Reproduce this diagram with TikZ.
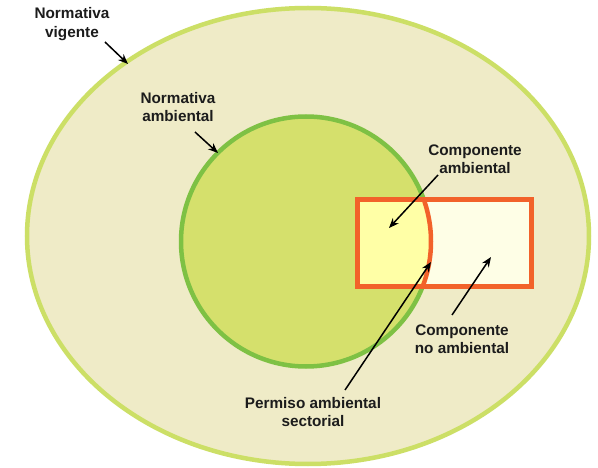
\documentclass[tikz,border=0pt]{standalone}
\usepackage{fontspec}
\setmainfont{Liberation Sans}
\usetikzlibrary{arrows.meta}
\definecolor{outfill}{HTML}{EFEBC7}
\definecolor{outline}{HTML}{CCDF66}
\definecolor{infill}{HTML}{D5E06C}
\definecolor{inline}{HTML}{7EC144}
\definecolor{orng}{HTML}{F2622A}
\definecolor{yel}{HTML}{FFFFA6}
\definecolor{cream}{HTML}{FEFEE6}
\definecolor{txt}{HTML}{1C1C1C}
\begin{document}
\begin{tikzpicture}[x=1pt,y=-1pt,
  lbl/.style={font=\bfseries\fontsize{15.3}{18.5}\selectfont, align=center, text=txt, inner sep=0pt},
  arr/.style={-{Stealth[length=10pt,width=8pt]}, line width=1.5pt, draw=black}]
\useasboundingbox (0,0) rectangle (598,468);
\fill[white] (0,0) rectangle (598,468);
% outer ellipse
\draw[fill=outfill, draw=outline, line width=4.5pt] (308,236) ellipse [x radius=281, y radius=228];
% inner ellipse
\draw[fill=infill, draw=inline, line width=4.5pt] (306,241.5) ellipse [x radius=125, y radius=125];
% rectangle
\fill[cream] (357,200) rectangle (531,287);
\begin{scope}
  \clip (357,200) rectangle (531,287);
  \fill[yel] (306,241.5) ellipse [x radius=125, y radius=125];
  \draw[orng, line width=4.5pt] (306,241.5) ellipse [x radius=125, y radius=125];
\end{scope}
\draw[orng, line width=5pt] (357,200) rectangle (531,287);
% labels
\node[lbl] (nv) at (72,24) {Normativa\\vigente};
\node[lbl] (na) at (178,107) {Normativa\\ambiental};
\node[lbl] (ca) at (475,159) {Componente\\ambiental};
\node[lbl] (cn) at (462,339) {Componente\\no ambiental};
\node[lbl] (ps) at (313,412) {Permiso ambiental\\sectorial};
% arrow endpoints
\coordinate (nv1) at (105,42);  \coordinate (nv2) at (128,64);
\coordinate (na1) at (195,132); \coordinate (na2) at (218,153);
\coordinate (ca1) at (438,175); \coordinate (ca2) at (389,228);
\coordinate (cn1) at (452,315); \coordinate (cn2) at (491,257);
\coordinate (ps1) at (345,390); \coordinate (ps2) at (431,262);
\draw[arr] (nv1) -- (nv2);
\draw[arr] (na1) -- (na2);
\draw[arr] (ca1) -- (ca2);
\draw[arr] (cn1) -- (cn2);
\draw[arr] (ps1) -- (ps2);
\end{tikzpicture}
\end{document}
